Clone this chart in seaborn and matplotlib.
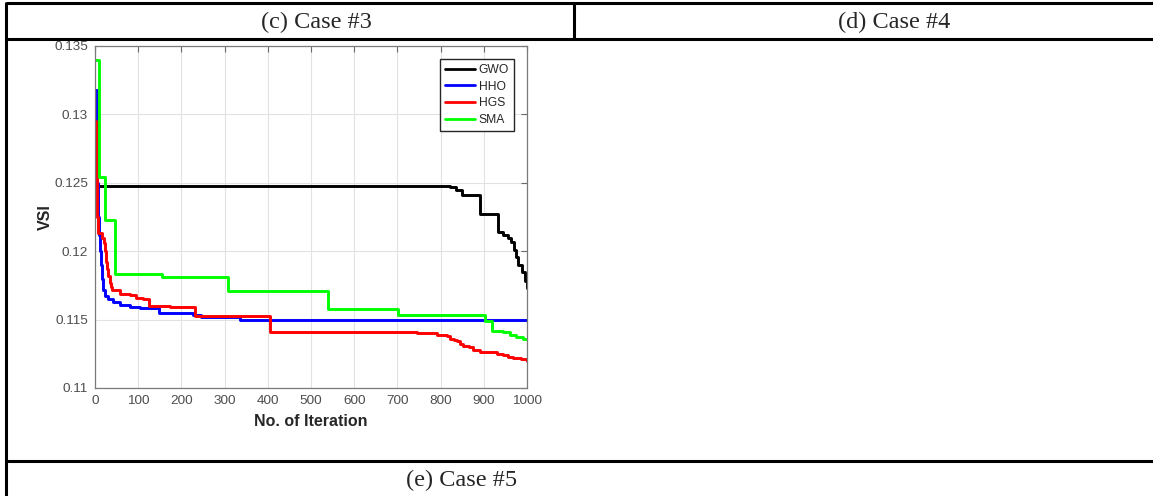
import matplotlib
matplotlib.use("Agg")
import matplotlib.pyplot as plt
from matplotlib.lines import Line2D
import numpy as np
import pandas as pd
import seaborn as sns

# Convergence curves: iteration at which the best VSI changes, and the new value
algorithms = ["GWO", "HHO", "HGS", "SMA"]
line_colors = ["#000000", "#0000ff", "#ff0000", "#00ff00"]

gwo_iter = [0, 822, 835, 850, 891, 933, 945, 956, 964, 970, 974, 980, 988, 995, 1000]
gwo_vsi = [0.1248, 0.1247, 0.1245, 0.1241, 0.1227, 0.1214, 0.1212, 0.1210, 0.1207,
           0.1201, 0.1196, 0.1190, 0.1185, 0.1178, 0.1173]

hho_iter = [0, 4, 6, 8, 10, 12, 14, 16, 19, 23, 30, 42, 58, 81, 104, 147, 228, 245, 336, 1000]
hho_vsi = [0.1318, 0.1250, 0.1237, 0.1225, 0.1212, 0.1200, 0.1190, 0.1180, 0.1172, 0.1167,
           0.1165, 0.1163, 0.1161, 0.1159, 0.11585, 0.1155, 0.1153, 0.1152, 0.1150, 0.1150]

hgs_iter = [0, 2, 4, 6, 16, 20, 24, 26, 28, 31, 34, 37, 40, 58, 81, 96, 112, 126, 174, 231,
            405, 745, 791, 814, 822, 830, 838, 846, 853, 865, 876, 891, 930, 945, 955, 968,
            985, 1000]
hgs_vsi = [0.1295, 0.1260, 0.1225, 0.1213, 0.1210, 0.1206, 0.1200, 0.1192, 0.1187, 0.1182,
           0.1177, 0.1174, 0.1172, 0.1169, 0.1168, 0.1166, 0.1165, 0.1160, 0.1159, 0.11525,
           0.1141, 0.1140, 0.1139, 0.1138, 0.1136, 0.1135, 0.1134, 0.1132, 0.1131, 0.1130,
           0.1128, 0.1126, 0.1125, 0.1124, 0.1123, 0.1122, 0.1121, 0.1120]

sma_iter = [0, 9, 23, 46, 154, 309, 540, 701, 903, 920, 945, 960, 975, 990, 1000]
sma_vsi = [0.1340, 0.1254, 0.1223, 0.1183, 0.1181, 0.1171, 0.1158, 0.1153, 0.1149, 0.1142,
           0.1141, 0.1139, 0.1137, 0.1136, 0.1136]

x_ticks = [0, 100, 200, 300, 400, 500, 600, 700, 800, 900, 1000]
y_ticks = [0.11, 0.115, 0.12, 0.125, 0.13, 0.135]
y_tick_labels = ["0.11", "0.115", "0.12", "0.125", "0.13", "0.135"]

captions = ["(c) Case #3", "(d) Case #4", "(e) Case #5"]

series = {"GWO": (gwo_iter, gwo_vsi), "HHO": (hho_iter, hho_vsi),
          "HGS": (hgs_iter, hgs_vsi), "SMA": (sma_iter, sma_vsi)}
df = pd.concat(
    [pd.DataFrame({"Iteration": it, "VSI": v, "Algorithm": name})
     for name, (it, v) in series.items()],
    ignore_index=True,
)

sns.set_style("white")
plt.rcParams["font.family"] = ["Liberation Sans", "DejaVu Sans"]

W, H = 1153, 496
fig = plt.figure(figsize=(W / 100, H / 100), dpi=100)
ax = fig.add_axes([95 / W, 1 - 388 / H, 432 / W, 342 / H])

sns.lineplot(data=df, x="Iteration", y="VSI", hue="Algorithm", hue_order=algorithms,
             palette=line_colors, estimator=None, sort=False, drawstyle="steps-post",
             linewidth=2.1, ax=ax)

ax.set_xlim(0, 1000)
ax.set_ylim(0.11, 0.135)
ax.set_xticks(x_ticks)
ax.set_xticklabels([str(t) for t in x_ticks])
ax.set_yticks(y_ticks)
ax.set_yticklabels(y_tick_labels)
ax.grid(True, color="#e2e2e2", linewidth=0.8)
ax.set_axisbelow(True)
for s in ax.spines.values():
    s.set_visible(True)
    s.set_color("#7a7a7a")
    s.set_linewidth(0.9)
ax.tick_params(direction="in", top=True, right=True, length=4, width=0.8,
               color="#6a6a6a", labelcolor="#4d4d4d", labelsize=9.7, pad=5)
ax.set_xlabel("No. of Iteration", fontsize=11.5, fontweight="bold", color="#262626", labelpad=5)
ax.set_ylabel("VSI", fontsize=11.5, fontweight="bold", color="#262626", labelpad=1)

sns.move_legend(ax, "upper right", bbox_to_anchor=(0.97, 0.962), title=None,
                frameon=True, fancybox=False, edgecolor="#262626", framealpha=1,
                fontsize=8.7, handlelength=2.5, handletextpad=0.3, labelspacing=0.38,
                borderpad=0.42, borderaxespad=0)
leg = ax.get_legend()
leg.get_frame().set_linewidth(1.0)
for h in leg.get_lines():
    h.set_linewidth(2.0)

# Table rules framing the figure panels
def hline(y, x0=5.5, x1=W):
    fig.add_artist(Line2D([x0 / W, x1 / W], [1 - y / H, 1 - y / H],
                          transform=fig.transFigure, color="black", linewidth=2.2,
                          solid_capstyle="butt"))

def vline(x, y0, y1):
    fig.add_artist(Line2D([x / W, x / W], [1 - y0 / H, 1 - y1 / H],
                          transform=fig.transFigure, color="black", linewidth=2.2,
                          solid_capstyle="butt"))

hline(3)
hline(39.2)
hline(460.8)
vline(5.7, 2, H)
vline(573.5, 2, 40)

serif = ["Liberation Serif", "DejaVu Serif"]
fig.text(316 / W, 1 - 22 / H, captions[0], ha="center", va="center", fontsize=17.5, family=serif)
fig.text(894 / W, 1 - 22 / H, captions[1], ha="center", va="center", fontsize=17.5, family=serif)
fig.text(462 / W, 1 - 480 / H, captions[2], ha="center", va="center", fontsize=17.5, family=serif)

fig.savefig("out.png", dpi=100, facecolor="white")
